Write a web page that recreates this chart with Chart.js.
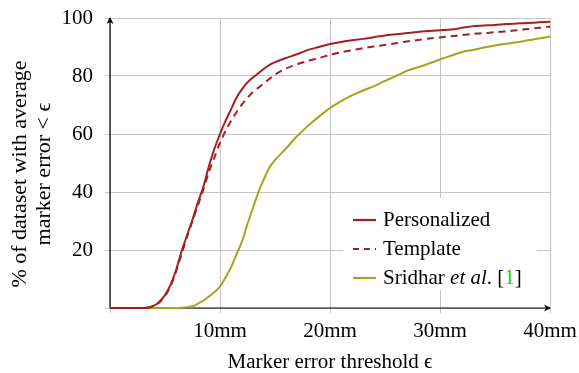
<!DOCTYPE html>
<html lang="en">
<head>
  <meta charset="UTF-8" />
  <title>Marker error</title>
  <script src="https://cdn.jsdelivr.net/npm/chart.js"></script>
  <style>
    body {
      margin: 0;
      background: #ffffff;
    }
  </style>
</head>
<body>
  <canvas id="grafico" width="579" height="373"></canvas>

  <script>
    // threshold in mm
    const limiares = [0, 1, 2, 3, 3.5, 4, 4.5, 5, 5.5, 6, 6.5, 7, 7.5, 8, 8.5, 9, 9.5, 10,
      10.5, 11, 11.5, 12, 12.5, 13, 13.5, 14, 14.5, 15, 16, 17, 18, 19, 20, 21, 22, 23,
      24, 25, 26, 27, 28, 29, 30, 31, 32, 33, 34, 35, 36, 37, 38, 39, 40];

    const personalized = [0, 0, 0, 0, 0.2, 0.8, 2.2, 4.5, 8, 13, 19.5, 25, 30.5, 36.5, 42, 49, 55, 60,
      64.5, 68.5, 72.5, 75.5, 77.8, 79.5, 81, 82.5, 83.8, 84.8, 86.2, 87.5, 89, 90, 91, 91.7, 92.3, 92.8,
      93.4, 94, 94.4, 94.8, 95.2, 95.5, 95.8, 96, 96.6, 97.2, 97.4, 97.6, 97.9, 98.1, 98.3, 98.5, 98.7];

    const template = [0, 0, 0, 0, 0.2, 0.7, 2, 4.2, 7.5, 12.5, 18.5, 24.5, 30, 35.5, 41, 47, 52, 57,
      61, 64.5, 67.5, 70.2, 72.5, 74.5, 76, 77.5, 79, 80.5, 82.6, 84, 85.2, 86.2, 87.3, 88.2, 88.9, 89.6,
      90.2, 90.7, 91.3, 91.9, 92.4, 92.9, 93.3, 93.7, 94.1, 94.5, 94.8, 95.1, 95.4, 95.8, 96.2, 96.6, 97];

    const sridhar = [0, 0, 0, 0, 0, 0, 0, 0, 0, 0, 0.1, 0.3, 0.6, 1.5, 2.6, 4, 5.5, 7.4,
      10.5, 14, 18.5, 23, 29, 34.5, 40, 44.5, 48.5, 51, 55, 59.2, 62.8, 66, 68.9, 71.3, 73.3, 75,
      76.5, 78.3, 80, 81.8, 83, 84.3, 85.7, 87, 88.3, 89, 89.8, 90.5, 91.1, 91.6, 92.3, 92.9, 93.6];

    const xTicks = [10, 20, 30, 40];
    const yTicks = [20, 40, 60, 80, 100];
    const tituloY = ['% of dataset with average', 'marker error < ϵ'];

    const VERMELHO = '#a31f24';
    const OLIVA = '#a8a220';
    const FONTE = "'Liberation Serif', 'DejaVu Serif', serif";

    const pontos = ys => limiares.map((x, i) => ({ x, y: ys[i] }));

    // black axes with arrow heads, plus the rotated y title
    const eixos = {
      id: 'eixos',
      beforeDatasetsDraw(chart) {
        const { ctx, chartArea: a } = chart;
        ctx.save();
        ctx.strokeStyle = '#000';
        ctx.fillStyle = '#000';
        ctx.lineWidth = 1.2;
        ctx.beginPath();
        ctx.moveTo(a.left, a.bottom);
        ctx.lineTo(a.left, a.top);
        ctx.moveTo(a.left, a.bottom);
        ctx.lineTo(a.right, a.bottom);
        ctx.stroke();
        ctx.beginPath();
        ctx.moveTo(a.left, a.top - 1);
        ctx.lineTo(a.left - 3.5, a.top + 6);
        ctx.lineTo(a.left, a.top + 4);
        ctx.lineTo(a.left + 3.5, a.top + 6);
        ctx.closePath();
        ctx.fill();
        ctx.beginPath();
        ctx.moveTo(a.right + 1, a.bottom);
        ctx.lineTo(a.right - 6, a.bottom - 3.5);
        ctx.lineTo(a.right - 4, a.bottom);
        ctx.lineTo(a.right - 6, a.bottom + 3.5);
        ctx.closePath();
        ctx.fill();

        ctx.translate(20, 174);
        ctx.rotate(-Math.PI / 2);
        ctx.font = '22px ' + FONTE;
        ctx.textAlign = 'center';
        ctx.textBaseline = 'middle';
        tituloY.forEach((t, i) => ctx.fillText(t, 0, i * 24));
        ctx.restore();
      }
    };

    // legend box inside the plot, lower right
    const legenda = {
      id: 'legenda',
      afterDatasetsDraw(chart) {
        const { ctx, chartArea: a } = chart;
        const bx = a.left + 233, by = a.top + 180, bw = 194, bh = 92;
        ctx.save();
        ctx.fillStyle = '#fff';
        ctx.fillRect(bx, by, bw, bh);
        const linhas = [
          { cor: VERMELHO, dash: [], partes: [['Personalized', '', '#000']] },
          { cor: VERMELHO, dash: [6, 5], partes: [['Template', '', '#000']] },
          { cor: OLIVA, dash: [], partes: [['Sridhar ', '', '#000'], ['et al', 'italic ', '#000'], ['. [', '', '#000'], ['1', '', '#00e000'], [']', '', '#000']] }
        ];
        linhas.forEach((l, i) => {
          const y = by + 22 + i * 29;
          ctx.strokeStyle = l.cor;
          ctx.lineWidth = 2.2;
          ctx.setLineDash(l.dash);
          ctx.beginPath();
          ctx.moveTo(bx + 10, y);
          ctx.lineTo(bx + 33, y);
          ctx.stroke();
          ctx.setLineDash([]);
          let x = bx + 40;
          ctx.textBaseline = 'middle';
          l.partes.forEach(([txt, estilo, cor]) => {
            ctx.font = estilo + '21px ' + FONTE;
            ctx.fillStyle = cor;
            ctx.fillText(txt, x, y);
            x += ctx.measureText(txt).width;
          });
        });
        ctx.restore();
      }
    };

    const ctx = document.getElementById('grafico').getContext('2d');
    new Chart(ctx, {
      type: 'line',
      data: {
        datasets: [
          {
            label: 'Personalized',
            data: pontos(personalized),
            borderColor: VERMELHO,
            borderWidth: 2,
            pointRadius: 0,
            tension: 0.3,
            clip: 4
          },
          {
            label: 'Template',
            data: pontos(template),
            borderColor: VERMELHO,
            borderWidth: 2,
            borderDash: [7, 5],
            pointRadius: 0,
            tension: 0.3,
            clip: 4
          },
          {
            label: 'Sridhar et al. [1]',
            data: pontos(sridhar),
            borderColor: OLIVA,
            borderWidth: 2,
            pointRadius: 0,
            tension: 0.3,
            clip: 4
          }
        ]
      },
      options: {
        responsive: false,
        animation: false,
        devicePixelRatio: 1,
        layout: { padding: { top: 18, right: 29, left: 0, bottom: 0 } },
        plugins: {
          legend: { display: false },
          tooltip: { enabled: false }
        },
        scales: {
          x: {
            type: 'linear',
            min: 0,
            max: 40,
            afterBuildTicks: s => { s.ticks = [0, ...xTicks].map(v => ({ value: v })); },
            afterFit: s => { s.height = 65; s.paddingLeft = 0; s.paddingRight = 0; },
            border: { display: false },
            grid: { color: '#c4c4c4', lineWidth: 1, tickLength: 5 },
            ticks: {
              autoSkip: false,
              padding: 6,
              maxRotation: 0,
              color: '#000',
              font: { family: FONTE, size: 21 },
              callback: v => (v === 0 ? '' : v + 'mm')
            },
            title: {
              display: true,
              text: 'Marker error threshold ϵ',
              color: '#000',
              font: { family: FONTE, size: 21, lineHeight: 1.0 },
              padding: { top: 0, bottom: 0 }
            }
          },
          y: {
            min: 0,
            max: 100,
            afterBuildTicks: s => { s.ticks = [0, ...yTicks].map(v => ({ value: v })); },
            afterFit: s => { s.width = 110; s.paddingTop = 0; s.paddingBottom = 0; },
            border: { display: false },
            grid: { color: '#c4c4c4', lineWidth: 1, tickLength: 5 },
            ticks: {
              autoSkip: false,
              padding: 12,
              color: '#000',
              font: { family: FONTE, size: 21 },
              callback: v => (v === 0 ? '' : v)
            }
          }
        }
      },
      plugins: [eixos, legenda]
    });
  </script>
</body>
</html>
